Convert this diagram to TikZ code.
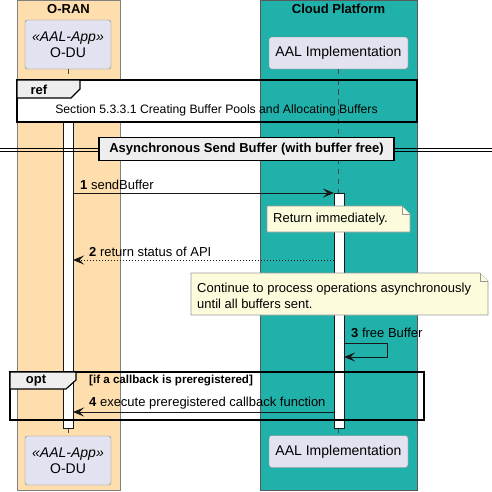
\documentclass[tikz,border=0pt]{standalone}
\usepackage{fontspec}
\setmainfont{Liberation Sans}
\usetikzlibrary{arrows.meta}
\definecolor{oranfill}{HTML}{FFDEAD}
\definecolor{cloudfill}{HTML}{20B2AA}
\definecolor{partfill}{HTML}{E2E2F0}
\definecolor{notefill}{HTML}{FCFCDD}
\definecolor{tabfill}{HTML}{EEEEEE}
\definecolor{lineclr}{HTML}{181818}

\begin{document}
\begin{tikzpicture}[x=1pt, y=-1pt,
    part/.style={draw=gray, fill=partfill, rounded corners=2.5pt, inner sep=0pt, align=center, font=\fontsize{14}{16.5}\selectfont},
    boxtitle/.style={font=\bfseries\fontsize{13}{15}\selectfont},
    lifeline/.style={draw=lineclr!80, dash pattern=on 5pt off 5pt, line width=0.6pt},
    bar/.style={draw=lineclr, fill=white, line width=1pt},
    msg/.style={draw=lineclr, line width=1pt, -{Stealth[length=11pt, width=9pt, inset=4.5pt]}},
    msglabel/.style={anchor=base west, inner sep=0pt, font=\fontsize{13}{15}\selectfont},
    frame/.style={draw=black, line width=1.5pt},
    tab/.style={draw=black, fill=tabfill, line width=1.2pt},
    note/.style={draw=gray!80, fill=notefill, line width=0.7pt},
    notetext/.style={anchor=west, inner sep=0pt, align=left, font=\fontsize{13}{16}\selectfont}]
  \useasboundingbox (0,0) rectangle (492,491);

  % Boxes
  \draw[fill=oranfill, draw=gray] (17,0) rectangle (120,490);
  \draw[fill=cloudfill, draw=gray!70!black] (260,0) rectangle (417,490);
  \node[boxtitle] (oran) at (68.5,9) {O-RAN};
  \node[boxtitle] (cloud) at (338.5,9) {Cloud Platform};

  % Nodes
  \node[part, minimum width=86pt, minimum height=49pt] (odu) at (68,44.5) {\textit{«AAL-App»}\\O-DU};
  \node[part, minimum width=139pt, minimum height=32pt] (aal) at (338.5,53) {AAL Implementation};
  \node[part, minimum width=86pt, minimum height=49pt] (odub) at (68,460.5) {\textit{«AAL-App»}\\O-DU};
  \node[part, minimum width=139pt, minimum height=32pt] (aalb) at (338.5,451.5) {AAL Implementation};

  % Lifelines and activations
  \coordinate (oduref) at (68,80);
  \coordinate (aalact) at (338.5,193);
  \draw[lifeline] (odu.south) -- (oduref);
  \draw[lifeline] (aal.south) -- (aalact);
  \draw[lifeline] (68,428) -- (odub.north);
  \draw[lifeline] (338.5,428) -- (aalb.north);
  \draw[bar] (63,98) rectangle (73,428);
  \draw[bar] (334,193) rectangle (344,428);

  % ref frame
  \fill[white] (17,80) rectangle (260,122);
  \draw[lifeline] (338.5,80) -- (338.5,122);
  \draw[frame] (17,80) rectangle (417,122);
  \draw[tab] (17,80) -- (80,80) -- (80,89) -- (71,98) -- (17,98) -- cycle;
  \node[font=\bfseries\fontsize{13}{15}\selectfont, inner sep=0pt] (reftag) at (39,90) {ref};
  \node[font=\fontsize{12.2}{14}\selectfont, inner sep=0pt] (reftext) at (216.5,110) {Section 5.3.3.1 Creating Buffer Pools and Allocating Buffers};

  % Divider
  \draw[line width=1pt] (0,148.5) -- (492,148.5) (0,151.5) -- (492,151.5);
  \node[draw=black, fill=tabfill, line width=1.5pt, minimum width=295pt, minimum height=23pt, inner sep=0pt, font=\bfseries\fontsize{13}{15}\selectfont] (divider) at (246.5,149) {Asynchronous Send Buffer (with buffer free)};

  % Messages
  \coordinate (m1s) at (73,193);
  \coordinate (m1e) at (334,193);
  \draw[msg] (m1s) -- (m1e);
  \node[msglabel] (l1) at (80,189) {\textbf{1} sendBuffer};

  \draw[note] (267,206) -- (402,206) -- (410,214) -- (410,232) -- (267,232) -- cycle;
  \draw[note] (402,206) -- (402,214) -- (410,214);
  \node[notetext] (n1text) at (273,219) {Return immediately.};

  \coordinate (m2s) at (334,260);
  \coordinate (m2e) at (73,260);
  \draw[msg, dash pattern=on 1.5pt off 1.5pt] (m2s) -- (m2e);
  \node[msglabel] (l2) at (89,256.5) {\textbf{2} return status of API};

  \draw[note] (191,273) -- (480,273) -- (488,281) -- (488,315) -- (191,315) -- cycle;
  \draw[note] (480,273) -- (480,281) -- (488,281);
  \node[notetext] (n2text) at (197,296) {Continue to process operations asynchronously\\until all buffers sent.};

  \coordinate (m3s) at (344,343);
  \coordinate (m3e) at (344,357);
  \draw[msg] (m3s) -- (387,343) -- (387,357) -- (m3e);
  \node[msglabel] (l3) at (351,337.5) {\textbf{3} free Buffer};

  % opt frame
  \draw[frame] (10,372) rectangle (424,420);
  \draw[tab] (10,372) -- (76,372) -- (76,380) -- (66,389) -- (10,389) -- cycle;
  \node[font=\bfseries\fontsize{13}{15}\selectfont, inner sep=0pt] (opttag) at (36,381) {opt};
  \node[anchor=west, inner sep=0pt, font=\bfseries\fontsize{11.6}{13}\selectfont] (guard) at (89,381) {[if a callback is preregistered]};

  \coordinate (m4s) at (334,412);
  \coordinate (m4e) at (73,412);
  \draw[msg] (m4s) -- (m4e);
  \node[msglabel] (l4) at (89,406.5) {\textbf{4} execute preregistered callback function};
\end{tikzpicture}
\end{document}
